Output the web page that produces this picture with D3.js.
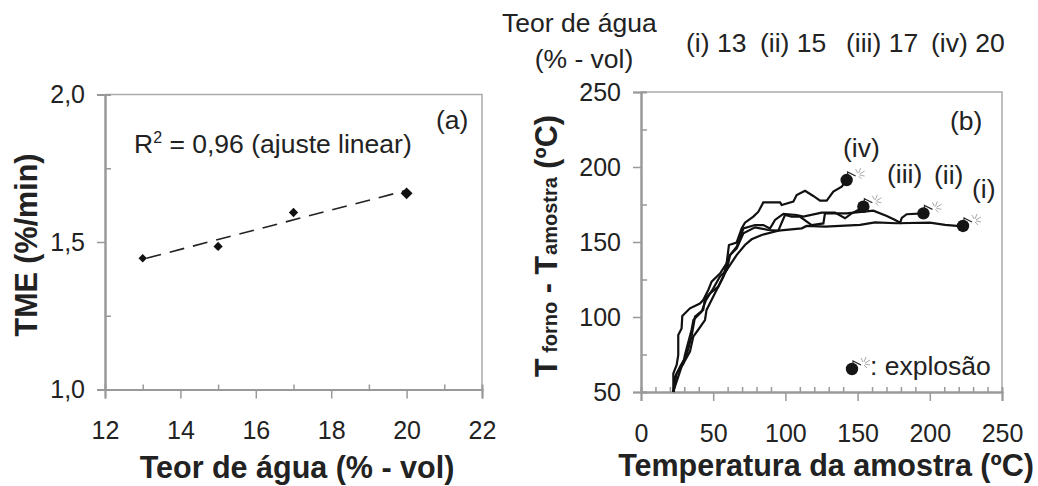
<!DOCTYPE html>
<html>
<head>
<meta charset="utf-8">
<script src="https://cdn.jsdelivr.net/npm/d3@7"></script>
<style>
  body { margin: 0; background: #fff; }
  text { font-family: "Liberation Sans", Arial, sans-serif; fill: #222; }
  .tick text { font-size: 25px; }
  .title { font-size: 30.5px; font-weight: bold; }
  .note { font-size: 26.5px; }
</style>
</head>
<body>
<script>
var w = 1038;
var h = 486;

// panel (a)
var waterContent = [13, 15, 17, 20];
var tmeValues = [1.445, 1.485, 1.6, 1.665];
var markerSizes = [45, 55, 55, 90];
var trendX = [13.1, 20];
var trendY = [1.445, 1.675];
var aXTicks = [12, 14, 16, 18, 20, 22];
var aXMinor = [13, 15, 17, 19, 21];
var aYTicks = [1.0, 1.5, 2.0];
var aYMinor = [1.25, 1.75];

// panel (b), [sample temperature, oven - sample]
var curveI = [[22.4,50],[23.5,53.6],[28.1,66.9],[33.9,76.9],[36.2,86.9],[40,92],[44.3,98],[45.4,104.7],[51.2,115.8],[55,123],[59.3,131.3],[66.2,141.3],[72,148],[76.6,151.8],[83.6,154.7],[95.1,157.6],[111.3,159.1],[114.7,160.7],[127.4,160.2],[151.7,161.4],[162,163.1],[177,162.5],[200,162.9],[210.6,161.4],[218.6,160.7],[223,160.7]];
var curveII = [[22.4,50],[23.6,60.2],[27,66.9],[31.6,74.7],[35,87],[37.4,100.2],[43.1,104.7],[44.3,112.4],[47.8,115.8],[53.5,120.2],[57,127],[60.5,140.2],[66.3,145.8],[70.9,155.8],[79,159.8],[88.2,158],[95.1,157.6],[99.7,168],[104.3,166.9],[110,167],[118.2,161.3],[126.3,162.4],[127.4,169.1],[142.4,169.1],[160.9,170.9],[170.2,167.4],[176,164.7],[179.4,162.8],[180.6,166],[184,168.5],[195.6,169.1]];
var curveIII = [[22.4,50],[24.7,62.4],[29.3,69],[30.4,74.7],[35,91.3],[36.3,98],[42,103.6],[45,111.3],[50,119],[54.7,127],[59.4,131.3],[61.7,141.3],[66.3,146.9],[70.9,159],[79,161.3],[84.7,161.3],[89.3,159],[92.8,164.7],[98.6,168.7],[107.8,168],[112.4,166.9],[125.1,169.6],[134.3,169.6],[141.3,165.8],[145.9,169.1],[150.5,171.3],[154,173.5]];
var curveIV = [[22.4,50],[22.4,62.4],[24.7,68],[25.8,74.7],[25.8,88],[28.1,92.4],[28.6,100.7],[33.9,105.8],[40.8,109],[43.1,111.3],[46.6,118],[48.9,123.6],[54.7,129],[59.3,135.8],[60.9,148],[66.2,149.6],[69.7,159],[72,162.9],[77.8,166.9],[81.3,170.2],[84.7,176.4],[96.3,176.4],[97.4,174.7],[105.5,176.9],[107.8,181.3],[113.6,184.2],[119.3,180.7],[124,177.6],[128.6,177.6],[133.2,183.6],[139,186.9],[142.4,191.3]];
var bXTicks = [0, 50, 100, 150, 200, 250];
var bXMinor = [10, 20, 30, 40, 60, 70, 80, 90, 110, 120, 130, 140, 160, 170, 180, 190, 210, 220, 230, 240];
var bYTicks = [50, 100, 150, 200, 250];
var bYMinor = [75, 125, 175, 225];

var svg = d3.select("body")
  .append("svg")
  .attr("width", w)
  .attr("height", h);

var commaFormat = function(d) { return d3.format(".1f")(d).replace(".", ","); };

// draws the grey box, the ticks and the labels of one panel
function drawFrame(x, y, xTicks, xMinor, yTicks, yMinor, yFormat) {
  var left = x.range()[0], right = x.range()[1];
  var bottom = y.range()[0], top = y.range()[1];

  svg.append("path")
    .attr("d", "M" + left + "," + top + "H" + right + "V" + bottom)
    .attr("fill", "none")
    .attr("stroke", "#aaa")
    .attr("stroke-width", 1.5);

  var xAxis = svg.append("g")
    .attr("transform", "translate(0," + bottom + ")")
    .call(d3.axisBottom(x).tickValues(xTicks).tickSize(9).tickPadding(23).tickFormat(d3.format("d")));
  var yAxis = svg.append("g")
    .attr("transform", "translate(" + left + ",0)")
    .call(d3.axisLeft(y).tickValues(yTicks).tickSize(8).tickPadding(12).tickFormat(yFormat));

  svg.append("g")
    .attr("transform", "translate(0," + bottom + ")")
    .call(d3.axisTop(x).tickValues(xMinor).tickSize(5).tickFormat(""));
  svg.append("g")
    .attr("transform", "translate(" + left + ",0)")
    .call(d3.axisRight(y).tickValues(yMinor).tickSize(6).tickFormat(""));

  svg.selectAll("g").selectAll(".domain, line").attr("stroke", "#999").attr("stroke-width", 1.5);
  svg.selectAll("g").select(".domain").attr("stroke-width", 2);
  xAxis.attr("font-family", null).attr("font-size", null);
  yAxis.attr("font-family", null).attr("font-size", null);
}

// Panel (a)
var xA = d3.scaleLinear().domain([12, 22]).range([105, 482]);
var yA = d3.scaleLinear().domain([1, 2]).range([389.5, 94.5]);
drawFrame(xA, yA, aXTicks, aXMinor, aYTicks, aYMinor, commaFormat);

svg.append("path")
  .datum(d3.zip(trendX, trendY))
  .attr("d", d3.line().x(function(d) { return xA(d[0]); }).y(function(d) { return yA(d[1]); }))
  .attr("fill", "none")
  .attr("stroke", "#222")
  .attr("stroke-width", 1.6)
  .attr("stroke-dasharray", "15,9");

svg.selectAll(".marker")
  .data(waterContent)
  .enter()
  .append("path")
  .attr("class", "marker")
  .attr("d", function(d, i) { return d3.symbol().type(d3.symbolDiamond2).size(markerSizes[i])(); })
  .attr("transform", function(d, i) { return "translate(" + xA(d) + "," + yA(tmeValues[i]) + ")"; })
  .attr("fill", "#111");

// Panel (b)
var xB = d3.scaleLinear().domain([0, 250]).range([641, 1002]);
var yB = d3.scaleLinear().domain([50, 250]).range([392, 92]);
drawFrame(xB, yB, bXTicks, bXMinor, bYTicks, bYMinor, d3.format("d"));

var curves = [curveI, curveII, curveIII, curveIV];
var line = d3.line()
  .x(function(d) { return xB(d[0]); })
  .y(function(d) { return yB(d[1]); });

svg.selectAll(".curve")
  .data(curves)
  .enter()
  .append("path")
  .attr("class", "curve")
  .attr("d", line)
  .attr("fill", "none")
  .attr("stroke", "#111")
  .attr("stroke-width", 2.2);

function drawBomb(cx, cy) {
  var g = svg.append("g").attr("transform", "translate(" + cx + "," + cy + ")");
  g.append("circle").attr("r", 6.2).attr("fill", "#151515");
  g.append("path").attr("d", "M1,-5L1,-8L9,-4").attr("fill", "none").attr("stroke", "#222").attr("stroke-width", 1.2);
  var sparks = [[11,-7,9,-11],[12,-7,14,-12],[13,-6,18,-9],[13,-5,18,-4],[12,-4,15,-1]];
  g.selectAll("line")
    .data(sparks)
    .enter()
    .append("line")
    .attr("x1", function(d) { return d[0]; })
    .attr("y1", function(d) { return d[1]; })
    .attr("x2", function(d) { return d[2]; })
    .attr("y2", function(d) { return d[3]; })
    .attr("stroke", "#aaa")
    .attr("stroke-width", 1);
}

curves.forEach(function(c) {
  var last = c[c.length - 1];
  drawBomb(xB(last[0]), yB(last[1]));
});
drawBomb(852, 369);

// Titles and notes
function addText(x, y, str, cls, anchor) {
  return svg.append("text")
    .attr("x", x)
    .attr("y", y)
    .attr("class", cls)
    .attr("text-anchor", anchor || "start")
    .text(str);
}

addText(297, 478, "Teor de água (% - vol)", "title", "middle");
addText(826, 476, "Temperatura da amostra (ºC)", "title", "middle");

svg.append("text")
  .attr("class", "title")
  .attr("text-anchor", "middle")
  .attr("transform", "translate(37,245) rotate(-90)")
  .text("TME (%/min)");

var yTitle = svg.append("text")
  .attr("class", "title")
  .attr("transform", "translate(557,377) rotate(-90)");
yTitle.append("tspan").text("T");
yTitle.append("tspan").attr("font-size", 20).text(" forno");
yTitle.append("tspan").text(" - T");
yTitle.append("tspan").attr("font-size", 20).attr("dx", 1).text("amostra");
yTitle.append("tspan").text(" (ºC)");

var r2 = addText(134, 153, "R", "note");
r2.append("tspan").attr("font-size", 16).attr("dy", -10).text("2");
r2.append("tspan").attr("dy", 10).text(" = 0,96 (ajuste linear)");

addText(436, 129, "(a)", "note");
addText(950, 130, "(b)", "note");
addText(843, 157, "(iv)", "note");
addText(887, 183, "(iii)", "note");
addText(934, 184, "(ii)", "note");
addText(972, 198, "(i)", "note");
addText(870, 375, ": explosão", "note");

addText(502, 32, "Teor de água", "note");
addText(584, 68, "(% - vol)", "note", "middle");
addText(686, 52, "(i) 13", "note");
addText(760, 52, "(ii) 15", "note");
addText(846, 52, "(iii) 17", "note");
addText(931, 52, "(iv) 20", "note");
</script>
</body>
</html>
